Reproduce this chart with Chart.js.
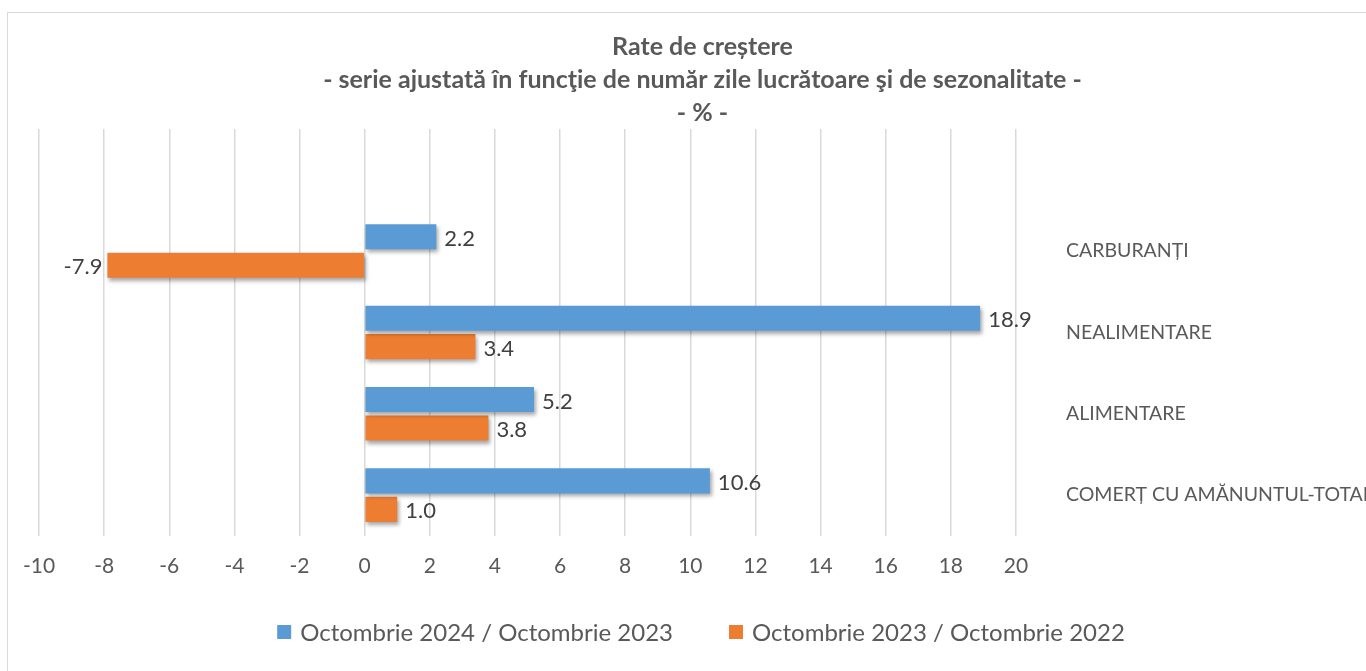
<!DOCTYPE html>
<html>
<head>
<meta charset="utf-8">
<script src="https://cdn.jsdelivr.net/npm/chart.js@4.4.1/dist/chart.umd.min.js"></script>
<style>
    body { margin: 0; background: #fff; }
    #wrap { position: relative; width: 1366px; height: 671px; overflow: hidden; }
    #frame { position: absolute; left: 7px; top: 12px; width: 1400px; height: 700px; border-left: 1px solid #d9d9d9; border-top: 1px solid #d9d9d9; }
</style>
</head>
<body>
<div id="wrap">
    <div id="frame"></div>
    <canvas id="growthChart"></canvas>
</div>
<script>
// categories top -> bottom (first row is empty, as in the original)
const categories = ['', 'CARBURANȚI', 'NEALIMENTARE', 'ALIMENTARE', 'COMERȚ CU AMĂNUNTUL-TOTAL'];
const oct2024 = [null, 2.2, 18.9, 5.2, 10.6];
const oct2023 = [null, -7.9, 3.4, 3.8, 1.0];
const seriesNames = ['Octombrie 2024 / Octombrie 2023', 'Octombrie 2023 / Octombrie 2022'];
const titleLines = [
    'Rate de creștere',
    '- serie ajustată în funcţie de număr zile lucrătoare şi de sezonalitate -',
    '- % -'
];

const FONT = 'Lato, "Open Sans", sans-serif';

// soft shadow under the bars, like the Excel original
const barShadow = {
    id: 'barShadow',
    beforeDatasetsDraw(chart) {
        const ctx = chart.ctx;
        ctx.save();
        ctx.shadowColor = 'rgba(0,0,0,0.35)';
        ctx.shadowBlur = 4;
        ctx.shadowOffsetX = 2;
        ctx.shadowOffsetY = 3;
    },
    afterDatasetsDraw(chart) {
        chart.ctx.restore();
    }
};

// value labels at the end of each bar
const valueLabels = {
    id: 'valueLabels',
    afterDatasetsDraw(chart) {
        const ctx = chart.ctx;
        ctx.save();
        ctx.font = '22px ' + FONT;
        ctx.fillStyle = '#404040';
        ctx.textBaseline = 'middle';
        chart.data.datasets.forEach((ds, i) => {
            chart.getDatasetMeta(i).data.forEach((bar, j) => {
                const v = ds.data[j];
                if (v === null || v === undefined) return;
                if (v >= 0) {
                    ctx.textAlign = 'left';
                    ctx.fillText(v.toFixed(1), bar.x + 8, bar.y + 2);
                } else {
                    ctx.textAlign = 'right';
                    ctx.fillText(v.toFixed(1), bar.x - 5, bar.y + 2);
                }
            });
        });
        ctx.restore();
    }
};

// legend drawn by hand so the gap between the two entries matches Excel
const bottomLegend = {
    id: 'bottomLegend',
    afterDraw(chart) {
        const ctx = chart.ctx;
        const box = 14, textGap = 9, itemGap = 56;
        const y = 632, centerX = 701;
        ctx.save();
        ctx.font = '24px ' + FONT;
        ctx.textBaseline = 'middle';
        ctx.textAlign = 'left';
        const items = chart.data.datasets.map(ds => ({
            text: ds.label,
            color: ds.backgroundColor,
            w: box + textGap + ctx.measureText(ds.label).width
        }));
        const total = items.reduce((s, it) => s + it.w, 0) + itemGap * (items.length - 1);
        let x = centerX - total / 2;
        items.forEach(it => {
            ctx.fillStyle = it.color;
            ctx.fillRect(x, y - box / 2, box, box);
            ctx.fillStyle = '#595959';
            ctx.fillText(it.text, x + box + textGap, y + 1);
            x += it.w + itemGap;
        });
        ctx.restore();
    }
};

const ctx = document.getElementById('growthChart').getContext('2d');
const chart = new Chart(ctx, {
    type: 'bar',
    data: {
        labels: categories,
        datasets: [{
            label: seriesNames[0],
            data: oct2024,
            backgroundColor: '#5b9bd5',
            categoryPercentage: 0.7,
            barPercentage: 0.88
        }, {
            label: seriesNames[1],
            data: oct2023,
            backgroundColor: '#ed7d31',
            categoryPercentage: 0.7,
            barPercentage: 0.88
        }]
    },
    options: {
        indexAxis: 'y',
        responsive: true,
        maintainAspectRatio: false,
        animation: false,
        layout: {
            padding: { left: 39, right: 0, top: 0, bottom: 74 }
        },
        scales: {
            x: {
                min: -10,
                max: 20,
                ticks: {
                    stepSize: 2,
                    color: '#595959',
                    font: { family: FONT, size: 21 },
                    padding: 18
                },
                grid: {
                    color: '#d9d9d9',
                    lineWidth: 1.5,
                    drawTicks: false
                },
                border: { display: false }
            },
            y: {
                position: 'right',
                ticks: {
                    color: '#595959',
                    font: { family: FONT, size: 19.5 },
                    padding: 50
                },
                grid: { display: false, drawTicks: false },
                border: { display: false },
                afterFit(scale) { scale.width = 350; }
            }
        },
        plugins: {
            title: {
                display: true,
                text: titleLines,
                color: '#595959',
                font: { family: FONT, size: 25, weight: 'bold', lineHeight: 1.32 },
                padding: { top: 30, bottom: 0 }
            },
            legend: { display: false },
            tooltip: { enabled: false }
        }
    },
    plugins: [barShadow, valueLabels, bottomLegend]
});
</script>
</body>
</html>
